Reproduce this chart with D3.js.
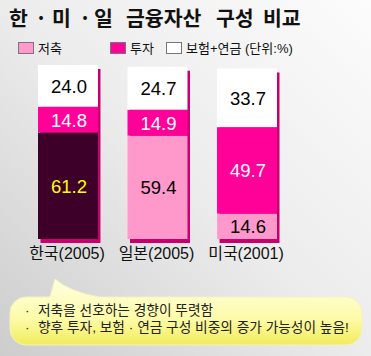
<!DOCTYPE html>
<html><head><meta charset="utf-8">
<script src="https://cdn.jsdelivr.net/npm/d3@7"></script>
<style>html,body{margin:0;padding:0;background:#fff;}svg{display:block;}</style>
</head><body>
<script>
const titleParts = ["한", "·", "미", "·", "일", "금융자산", "구성", "비교"];
const categories = ["한국(2005)", "일본(2005)", "미국(2001)"];
const seriesKeys = ["savings", "investment", "insurance"];
const seriesNames = ["저축", "투자", "보험+연금"];
const unitNote = "(단위:%)";
const savings = [61.2, 59.4, 14.6];
const investment = [14.8, 14.9, 49.7];
const insurance = [24.0, 24.7, 33.7];
const highlightCategory = "한국(2005)";
const notes = ["저축을 선호하는 경향이 뚜렷함", "향후 투자, 보험 · 연금 구성 비중의 증가 가능성이 높음!"];

const W = 371, H = 356;
const colors = {savings: "#ff99cc", investment: "#ff0099", insurance: "#ffffff"};
const textColors = {savings: "#000", investment: "#fff", insurance: "#000"};
const KR = "'Liberation Sans', Arial, 'Noto Sans CJK KR', sans-serif";

const rows = categories.map((c, i) => ({category: c, savings: savings[i], investment: investment[i], insurance: insurance[i]}));

const svg = d3.select("body").append("svg").attr("width", W).attr("height", H);
const defs = svg.append("defs");
const bg = defs.append("linearGradient").attr("id", "bg").attr("x1", 1).attr("y1", 0).attr("x2", 0).attr("y2", 1);
bg.append("stop").attr("offset", 0).attr("stop-color", "#fcfcfc");
bg.append("stop").attr("offset", 0.5).attr("stop-color", "#ececec");
bg.append("stop").attr("offset", 1).attr("stop-color", "#cdcdcd");
const yg = defs.append("linearGradient").attr("id", "yg").attr("x1", 0).attr("y1", 0).attr("x2", 0).attr("y2", 1);
yg.append("stop").attr("offset", 0).attr("stop-color", "#ffffe2");
yg.append("stop").attr("offset", 0.6).attr("stop-color", "#fdfba8");
yg.append("stop").attr("offset", 1).attr("stop-color", "#f1ec5c");

svg.append("rect").attr("width", W).attr("height", H).attr("fill", "url(#bg)");

// title
const titleX = [9, 35, 52, 79, 94, 126, 216, 263];
const tt = svg.append("text").attr("y", 26).attr("font-family", "'Noto Sans CJK KR', sans-serif")
  .attr("font-weight", "bold").attr("font-size", 20.5).attr("fill", "#111");
titleParts.forEach((t, i) => tt.append("tspan").attr("x", titleX[i]).text(t));

// legend
const legendX = [18, 110, 166];
const lg = svg.append("g").attr("font-family", KR).attr("font-size", 13).attr("fill", "#111");
seriesKeys.forEach((k, i) => {
  lg.append("rect").attr("x", legendX[i] + 0.5).attr("y", 42.5).attr("width", 15).attr("height", 11)
    .attr("fill", colors[k]).attr("stroke", "#777").attr("stroke-width", 1);
  lg.append("text").attr("x", legendX[i] + 20).attr("y", 52.5)
    .text(i === 2 ? seriesNames[i] + " " + unitNote : seriesNames[i]);
});

// scales
const x = d3.scaleBand().domain(categories).range([38, 277]).paddingInner(0.33).paddingOuter(0);
const y = d3.scaleLinear().domain([0, 100]).range([239, 65]);
const stack = d3.stack().keys(seriesKeys)(rows);

// shadows
const totals = rows.map(r => r.savings + r.investment + r.insurance);
svg.append("g").selectAll("rect").data(rows).join("rect")
  .attr("x", d => x(d.category) + 2.5).attr("y", (d, i) => y(totals[i]) + 4)
  .attr("width", x.bandwidth()).attr("height", (d, i) => y(0) - y(totals[i]))
  .attr("fill", "#c8006e");

const segColor = (key, d) => (key === "savings" && d.data.category === highlightCategory) ? "#3d0029" : colors[key];
const segText = (key, d) => (key === "savings" && d.data.category === highlightCategory) ? "#ffff00" : textColors[key];

const layers = svg.append("g").selectAll("g").data(stack).join("g");
layers.selectAll("rect").data(s => s.map(d => ({key: s.key, d}))).join("rect")
  .attr("x", o => x(o.d.data.category)).attr("y", o => y(o.d[1]))
  .attr("width", x.bandwidth()).attr("height", o => y(o.d[0]) - y(o.d[1]))
  .attr("fill", o => segColor(o.key, o.d));
layers.selectAll("text").data(s => s.map(d => ({key: s.key, d}))).join("text")
  .attr("x", o => x(o.d.data.category) + x.bandwidth() / 2 + 1)
  .attr("y", o => (y(o.d[0]) + y(o.d[1])) / 2 + 7)
  .attr("text-anchor", "middle").attr("font-family", KR).attr("font-size", 18.5)
  .attr("fill", o => segText(o.key, o.d))
  .text(o => (o.d[1] - o.d[0]).toFixed(1));

// category labels
svg.append("g").selectAll("text").data(categories).join("text")
  .attr("x", c => x(c) + x.bandwidth() / 2 - 1).attr("y", 259)
  .attr("text-anchor", "middle").attr("font-family", KR).attr("font-size", 16).attr("fill", "#111")
  .text(c => c);

// callout
const bx0 = 10, by0 = 297, bx1 = 362, by1 = 345, r = 16;
const p = d3.path();
p.moveTo(bx0 + r, by0);
p.lineTo(50, by0);
p.lineTo(55, 279);
p.quadraticCurveTo(70, 292, 100, by0);
p.lineTo(bx1 - r, by0);
p.arcTo(bx1, by0, bx1, by0 + r, r);
p.lineTo(bx1, by1 - r);
p.arcTo(bx1, by1, bx1 - r, by1, r);
p.lineTo(bx0 + r, by1);
p.arcTo(bx0, by1, bx0, by1 - r, r);
p.lineTo(bx0, by0 + r);
p.arcTo(bx0, by0, bx0 + r, by0, r);
p.closePath();
svg.append("path").attr("d", p.toString()).attr("fill", "url(#yg)").attr("stroke", "#f4f2c0").attr("stroke-width", 1);

const ng = svg.append("g").attr("font-family", KR).attr("font-size", 13.7).attr("fill", "#222");
notes.forEach((t, i) => {
  ng.append("text").attr("x", 25).attr("y", 315 + i * 17).text("·");
  ng.append("text").attr("x", 38).attr("y", 315 + i * 17).text(t);
});
</script>
</body></html>
